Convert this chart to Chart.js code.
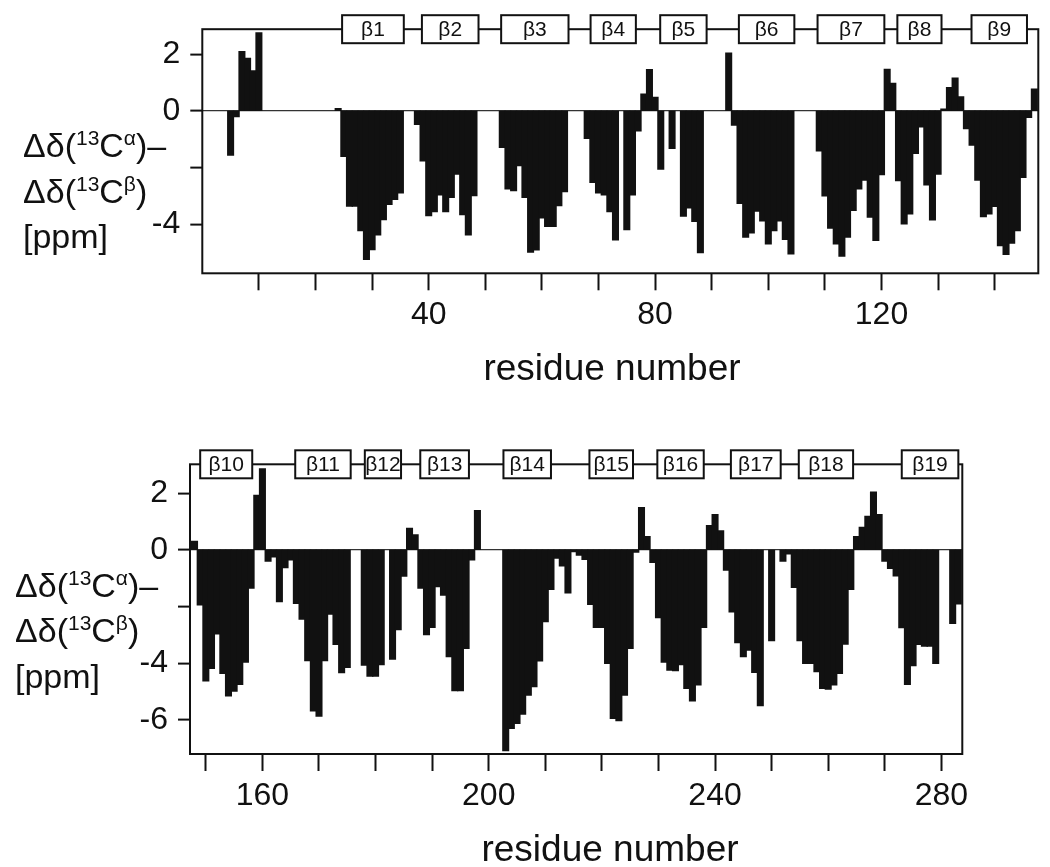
<!DOCTYPE html>
<html>
<head>
<meta charset="utf-8">
<title>Secondary chemical shifts</title>
<script src="https://cdn.jsdelivr.net/npm/chart.js@4.4.1/dist/chart.umd.min.js"></script>
<style>
    html, body { margin: 0; padding: 0; background: #fff; }
    #wrap { position: relative; width: 1050px; height: 867px; overflow: hidden; }
    canvas { position: absolute; left: 0; }
    #top-chart { top: 0; }
    #bottom-chart { top: 430px; }
</style>
</head>
<body>
<div id="wrap">
    <canvas id="top-chart" width="1050" height="430"></canvas>
    <canvas id="bottom-chart" width="1050" height="437"></canvas>
</div>
<script>
// Δδ(13Cα) – Δδ(13Cβ) per residue, null = no value
const topFirstResidue = 5;
const topValues = [
    -1.56, -0.2, 2.09, 1.85, 1.41, 2.75,
    null, null, null, null, null, null, null, null, null, null, null, null, null,
    0.08,
    -1.6, -3.36, -3.36, -4.22, -5.24, -4.89, -4.37, -3.83, -3.3, -3.12, -2.89,
    null, null,
    -0.47, -1.76, -3.69, -3.55, -2.96, -3.55, -3.05, -2.23, -3.66, -4.37, -2.99,
    null, null, null, null,
    -1.29, -2.75, -2.81, -1.93, -3.05, -4.98, -4.9, -3.77, -4.07, -4.07, -3.34, -2.85,
    null, null, null,
    -0.97, -2.52, -2.89, -2.96, -3.55, -4.55,
    null,
    -4.19, -2.96, -0.7, 0.59, 1.45, 0.47, -2.05,
    null,
    -1.32,
    null,
    -3.71, -3.42, -3.9, -5.0,
    null, null, null, null,
    2.03, -0.5, -3.26, -4.45, -4.3, -3.53, -3.88, -4.69, -4.22, -3.88, -4.53, -5.04,
    null, null, null, null,
    -1.41, -3.0, -4.13, -4.69, -5.12, -4.45, -3.51, -2.75, -2.44, -3.75, -4.57, -2.25,
    1.46, 0.97, -2.46, -3.98, -3.63, -1.5, -0.56, -2.61, -3.84, -2.23,
    0.06, 0.82, 1.15, 0.49, -0.62, -1.21, -2.44, -3.73, -3.63, -3.37,
    -4.75, -5.06, -4.66, -4.22, -2.34, -0.23, 0.76
];

const bottomFirstResidue = 148;
const bottomValues = [
    0.3, -1.94, -4.62, -4.18, -2.96, -4.35, -5.15, -4.98, -4.74, -3.96, -1.35, 1.92, 2.86,
    -0.39, -0.24, -1.82, -0.62, -0.35, -1.88, -2.44, -3.9, -5.68, -5.86, -3.9, -2.26, -3.33, -4.33, -4.14,
    null, null,
    -4.06, -4.45, -4.45, -4.04,
    null,
    -3.85, -2.81, -0.92, 0.76, 0.53, -1.35, -2.99, -2.73, -1.29, -1.59, -3.76, -4.96, -4.96, -3.47, -0.35, 1.38,
    null, null, null, null,
    -7.08, -6.29, -6.12, -5.79, -5.12, -4.82, -3.91, -2.53, -1.39, -0.29, -0.56, -1.51,
    -0.06, -0.18, -0.33, -1.92, -2.73, -2.73, -4.0, -5.94, -6.02, -5.12, -3.47,
    -0.08, 1.49, 0.47, -0.44, -2.39, -3.96, -4.24, -4.26, -4.04, -4.88, -5.32, -4.76, -2.73,
    0.85, 1.24, 0.67, -0.71, -2.18, -3.27, -3.76, -3.53, -4.32, -5.49,
    null,
    -3.2,
    null,
    -0.39, -0.14, -1.32, -3.2, -4.0, -4.0, -4.29, -4.88, -4.91, -4.76, -4.35, -3.32, -1.39,
    0.47, 0.79, 1.18, 2.04, 1.24, -0.39, -0.65, -0.91, -2.74, -4.74, -4.08, -3.33, -3.39, -3.39, -4.0,
    null, null,
    -2.59, -1.9
];

// β-strands (residue ranges) drawn on the top frame
const topStrandLabels = ['β1', 'β2', 'β3', 'β4', 'β5', 'β6', 'β7', 'β8', 'β9'];
const topStrandStart = [24.7, 38.8, 52.8, 68.6, 80.9, 94.8, 108.7, 122.8, 135.9];
const topStrandEnd = [35.6, 48.8, 64.7, 76.6, 89.1, 104.6, 120.5, 130.6, 145.7];
const bottomStrandLabels = ['β10', 'β11', 'β12', 'β13', 'β14', 'β15', 'β16', 'β17', 'β18', 'β19'];
const bottomStrandStart = [149.0, 165.8, 178.1, 187.9, 202.6, 217.8, 229.8, 242.8, 254.8, 273.0];
const bottomStrandEnd = [158.2, 175.6, 184.5, 196.5, 211.0, 225.5, 238.0, 251.6, 264.4, 283.0];

// axes
const topXRange = [0, 147.7];
const bottomXRange = [147.2, 283.7];
const topYRange = [-5.73, 2.88];
const bottomYRange = [-7.2, 3.02];
const topXTicks = [10, 20, 30, 40, 50, 60, 70, 80, 90, 100, 110, 120, 130, 140];
const topXLabels = [40, 80, 120];
const bottomXTicks = [150, 160, 170, 180, 190, 200, 210, 220, 230, 240, 250, 260, 270, 280];
const bottomXLabels = [160, 200, 240, 280];
const topYTicks = [-4, -2, 0, 2];
const bottomYTicks = [-6, -4, -2, 0, 2];
const unlabelledY = [-2];

const FONT = '"Liberation Sans", Arial, Helvetica, sans-serif';
const INK = '#111';

document.addEventListener('DOMContentLoaded', () => {

    function toPoints(first, values) {
        return values.map((v, i) => ({ x: first + i, y: v }));
    }

    function drawRich(ctx, x, y, parts) {
        parts.forEach(p => {
            ctx.font = (p.sup ? 21 : 34) + 'px ' + FONT;
            ctx.fillText(p.t, x, y - (p.sup ? 12 : 0));
            x += ctx.measureText(p.t).width;
        });
    }

    function decorPlugin(cfg) {
        return {
            id: 'decor',
            afterDraw(chart) {
                const ctx = chart.ctx;
                const a = chart.chartArea;
                const xs = chart.scales.x;
                ctx.save();
                ctx.strokeStyle = INK;
                ctx.lineWidth = 2;
                ctx.strokeRect(a.left, a.top, a.right - a.left, a.bottom - a.top);

                // strand boxes sitting on the top frame line
                ctx.font = '21px ' + FONT;
                ctx.textAlign = 'center';
                ctx.textBaseline = 'middle';
                cfg.labels.forEach((label, i) => {
                    const x1 = xs.getPixelForValue(cfg.start[i]);
                    const x2 = xs.getPixelForValue(cfg.end[i]);
                    ctx.fillStyle = '#fff';
                    ctx.fillRect(x1, a.top - 14, x2 - x1, 28);
                    ctx.strokeRect(x1, a.top - 14, x2 - x1, 28);
                    ctx.fillStyle = INK;
                    ctx.fillText(label, (x1 + x2) / 2, a.top + 1);
                });

                // y title
                ctx.textAlign = 'left';
                ctx.textBaseline = 'alphabetic';
                const b = cfg.yTitleBase;
                drawRich(ctx, cfg.yTitleX, b[0], [
                    { t: 'Δδ(' }, { t: '13', sup: true }, { t: 'C' }, { t: 'α', sup: true }, { t: ')–' }
                ]);
                drawRich(ctx, cfg.yTitleX, b[1], [
                    { t: 'Δδ(' }, { t: '13', sup: true }, { t: 'C' }, { t: 'β', sup: true }, { t: ')' }
                ]);
                drawRich(ctx, cfg.yTitleX, b[2], [{ t: '[ppm]' }]);

                // x title
                ctx.textAlign = 'center';
                ctx.font = '37px ' + FONT;
                ctx.fillText('residue number', cfg.xTitleX, cfg.xTitleY);
                ctx.restore();
            }
        };
    }

    function makeChart(canvasId, cfg) {
        return new Chart(document.getElementById(canvasId), {
            type: 'bar',
            data: {
                datasets: [{
                    data: toPoints(cfg.first, cfg.values),
                    backgroundColor: INK,
                    borderWidth: 0,
                    inflateAmount: 0.7,
                    barPercentage: 1,
                    categoryPercentage: 1
                }]
            },
            options: {
                responsive: false,
                animation: false,
                devicePixelRatio: 1,
                layout: { padding: { top: cfg.padTop, right: cfg.padRight, left: 0, bottom: 0 } },
                plugins: { legend: { display: false }, tooltip: { enabled: false } },
                scales: {
                    x: {
                        type: 'linear',
                        offset: false,
                        min: cfg.xRange[0],
                        max: cfg.xRange[1],
                        afterBuildTicks: scale => { scale.ticks = cfg.xTicks.map(v => ({ value: v })); },
                        afterFit: scale => { scale.height = cfg.xAxisHeight; },
                        border: { display: false },
                        grid: { offset: false, drawOnChartArea: false, tickLength: 17, tickColor: INK, tickWidth: 2 },
                        ticks: {
                            autoSkip: false,
                            maxRotation: 0,
                            padding: 6,
                            color: INK,
                            font: { family: FONT, size: 32 },
                            callback: v => cfg.xLabels.includes(v) ? String(v) : ''
                        }
                    },
                    y: {
                        min: cfg.yRange[0],
                        max: cfg.yRange[1],
                        afterBuildTicks: scale => { scale.ticks = cfg.yTicks.map(v => ({ value: v })); },
                        afterFit: scale => { scale.width = cfg.yAxisWidth; },
                        border: { display: false },
                        grid: {
                            color: c => c.tick && c.tick.value === 0 ? '#333' : 'rgba(0,0,0,0)',
                            lineWidth: 1.2,
                            tickLength: 12,
                            tickColor: INK,
                            tickWidth: 2
                        },
                        ticks: {
                            padding: 10,
                            color: INK,
                            font: { family: FONT, size: 32 },
                            callback: v => unlabelledY.includes(v) ? '' : String(v)
                        }
                    }
                }
            },
            plugins: [decorPlugin(cfg)]
        });
    }

    makeChart('top-chart', {
        first: topFirstResidue,
        values: topValues,
        xRange: topXRange,
        yRange: topYRange,
        xTicks: topXTicks,
        xLabels: topXLabels,
        yTicks: topYTicks,
        padTop: 28.3,
        padRight: 11.7,
        yAxisWidth: 202.3,
        xAxisHeight: 156.7,
        labels: topStrandLabels,
        start: topStrandStart,
        end: topStrandEnd,
        yTitleX: 23,
        yTitleBase: [157, 202.5, 248],
        xTitleX: 612,
        xTitleY: 380
    });

    makeChart('bottom-chart', {
        first: bottomFirstResidue,
        values: bottomValues,
        xRange: bottomXRange,
        yRange: bottomYRange,
        xTicks: bottomXTicks,
        xLabels: bottomXLabels,
        yTicks: bottomYTicks,
        padTop: 34.3,
        padRight: 87.7,
        yAxisWidth: 190,
        xAxisHeight: 113,
        labels: bottomStrandLabels,
        start: bottomStrandStart,
        end: bottomStrandEnd,
        yTitleX: 15,
        yTitleBase: [166.5, 212, 257.5],
        xTitleX: 610,
        xTitleY: 430.5
    });
});
</script>
</body>
</html>
